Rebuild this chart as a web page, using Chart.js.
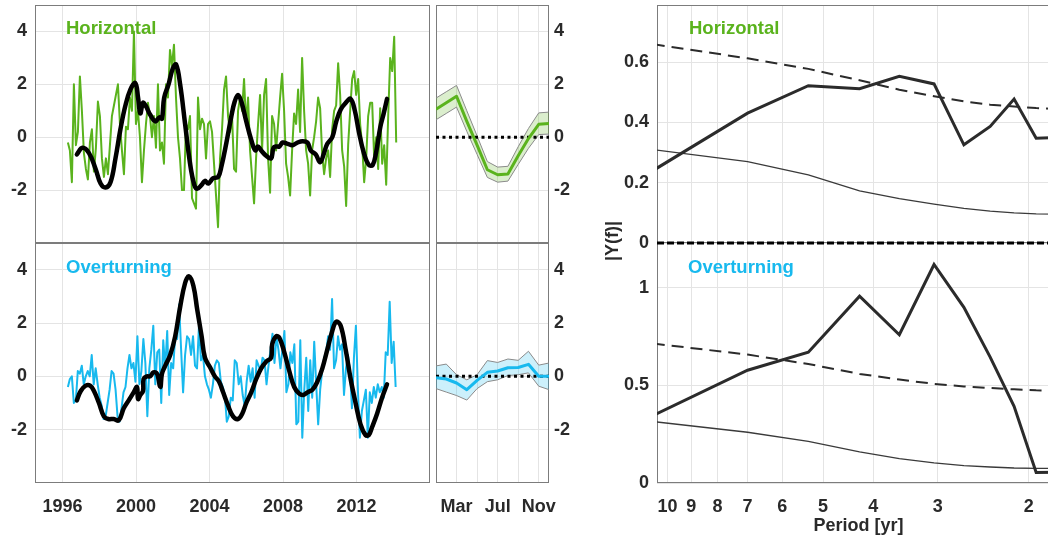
<!DOCTYPE html>
<html><head><meta charset="utf-8">
<script src="https://cdn.jsdelivr.net/npm/chart.js@4.4.1/dist/chart.umd.min.js"></script>
<style>
html,body{margin:0;padding:0;background:#fff;width:1048px;height:540px;overflow:hidden;}
#wrap{position:relative;width:1048px;height:540px;overflow:hidden;}
canvas{position:absolute;}
.up{z-index:2;}
.lbl{position:absolute;z-index:3;font:bold 18.5px "Liberation Sans",Arial,sans-serif;line-height:1;white-space:nowrap;}
</style></head><body>
<div id="wrap">
<canvas id="oTS" width="432" height="300" style="left:0;top:240px"></canvas>
<canvas id="oMon" width="160" height="300" style="left:434px;top:240px"></canvas>
<canvas id="oSpec" width="470" height="300" style="left:590px;top:240px"></canvas>
<canvas id="hTS" class="up" width="432" height="258" style="left:0;top:0"></canvas>
<canvas id="hMon" class="up" width="160" height="258" style="left:434px;top:0"></canvas>
<canvas id="hSpec" class="up" width="470" height="258" style="left:590px;top:0"></canvas>
<div class="lbl" style="left:66px;top:19px;color:#5ab31d">Horizontal</div>
<div class="lbl" style="left:66px;top:258px;color:#17b9ee">Overturning</div>
<div class="lbl" style="left:689px;top:19px;color:#5ab31d">Horizontal</div>
<div class="lbl" style="left:688px;top:258px;color:#17b9ee">Overturning</div>
<div class="lbl" style="left:612px;top:241px;color:#2a2a2a;font-size:18px;transform:translate(-50%,-50%) rotate(-90deg);">|Y(f)|</div>
</div>
<script>
// ---------- Time series (left) ----------
const yearTicks = [1996, 2000, 2004, 2008, 2012];
const tsTicks = [-2, 0, 2, 4];
// Horizontal raw series, evenly sampled between start and end year
const hRawStart = 1996.29, hRawEnd = 2014.16;
const hRaw = [
 -0.2,-0.5,-1.7,2.0,-0.3,0.2,2.3,1.0,-0.6,-1.2,
 -1.6,-0.2,0.3,-1.3,-0.4,1.35,0.8,-0.8,-1.5,-0.8,
 -1.4,-0.3,0.8,1.2,1.6,2.0,0.5,-0.5,-1.4,0.4,
 0.3,1.5,1.0,4.0,0.5,1.0,0.0,-1.7,-0.5,0.5,
 1.3,0.8,0.0,0.8,-0.4,2.0,-0.5,-0.2,-1.0,2.0,
 1.5,3.3,2.7,3.5,1.5,0.0,-0.8,-2.0,-2.0,0.5,
 0.3,0.8,-2.3,-2.5,-2.7,1.5,0.3,0.7,0.5,-0.8,
 0.5,0.6,0.2,-1.0,-2.2,-3.4,-0.8,0.3,1.8,2.3,
 0.8,0.2,0.8,-1.2,-1.3,1.0,1.5,1.0,2.2,0.5,
 1.5,-0.5,-1.5,-2.5,-0.8,0.5,1.6,-0.5,1.6,2.2,
 -0.8,-2.1,0.8,0.5,-0.5,0.5,1.5,2.4,1.0,-1.0,
 -1.5,-2.2,-0.5,0.9,0.5,1.8,0.2,3.0,1.0,-0.5,
 -1.0,-2.2,-0.5,0.0,0.6,1.5,1.1,-0.6,-1.4,-0.8,
 -0.5,-1.5,0.3,1.0,1.2,2.8,1.6,-0.5,-1.1,-2.6,
 -0.3,1.0,2.2,2.5,1.6,2.2,0.5,-0.3,-1.7,-0.8,
 0.8,1.3,1.3,-0.8,0.0,-1.2,1.1,-1.0,-0.3,-1.8,
 0.8,3.0,2.5,3.8,-0.2
];
const hSmoothYears = [1996.78,1997.08,1997.44,1997.80,1998.07,1998.34,1998.61,1998.88,1999.15,1999.42,1999.69,1999.96,2000.11,2000.23,2000.38,2000.52,2000.77,2001.05,2001.28,2001.41,2001.53,2001.77,2002.00,2002.18,2002.40,2002.67,2002.94,2003.17,2003.33,2003.57,2003.75,2003.93,2004.20,2004.47,2004.65,2004.92,2005.19,2005.37,2005.55,2005.73,2006.00,2006.27,2006.49,2006.63,2006.81,2007.08,2007.35,2007.48,2007.62,2007.80,2007.98,2008.25,2008.52,2008.79,2009.06,2009.33,2009.51,2009.78,2010.02,2010.23,2010.41,2010.68,2010.90,2011.14,2011.41,2011.68,2011.91,2012.13,2012.40,2012.67,2012.88,2013.06,2013.30,2013.48,2013.66];
const hSmooth = [-0.65,-0.4,-0.6,-1.2,-1.75,-1.9,-1.7,-0.8,0.3,1.2,1.8,2.05,1.5,0.9,1.3,1.2,0.85,0.6,0.75,0.7,1.5,2.0,2.6,2.75,2.0,0.5,-1.0,-1.8,-1.95,-1.8,-1.65,-1.75,-1.55,-1.5,-1.1,-0.2,0.8,1.35,1.6,1.35,0.6,-0.1,-0.5,-0.35,-0.5,-0.7,-0.8,-0.4,-0.35,-0.35,-0.2,-0.25,-0.3,-0.2,-0.15,-0.2,-0.5,-0.65,-0.95,-0.6,-0.25,0.0,0.6,1.05,1.3,1.45,1.0,0.2,-0.6,-1.05,-1.05,-0.6,0.4,0.9,1.45];

const oRawStart = 1996.29, oRawEnd = 2014.13;
const oRaw = [
 -0.4,-0.1,0.0,-1.0,-0.9,0.2,0.1,0.4,-0.3,0.0,
 0.2,0.0,0.8,-0.3,0.3,-0.3,-0.8,-1.1,-1.6,-1.5,
 -1.0,-0.5,0.2,0.1,-0.5,-1.5,-1.7,-1.2,-0.6,-0.4,
 0.3,0.8,0.3,0.5,-0.2,1.5,-0.3,0.2,1.4,0.5,
 -1.5,0.3,1.0,1.9,-0.3,0.9,1.0,-1.0,1.35,0.3,
 1.7,-0.7,0.5,0.3,1.5,1.4,2.7,1.0,-0.6,0.8,
 1.5,1.4,0.8,1.5,0.4,0.3,1.9,0.6,0.8,0.0,
 -0.3,-0.5,-0.8,-0.3,0.4,0.6,0.5,-0.2,-0.4,-0.7,
 -1.7,-1.5,-0.8,-0.9,0.6,0.5,-0.3,0.0,-0.7,-1.1,
 -0.2,0.4,-0.2,0.3,-0.8,0.6,0.4,0.2,0.7,0.6,
 -0.3,0.4,1.0,1.6,0.5,1.5,1.0,0.3,1.0,1.7,
 -0.6,-0.3,0.9,0.5,1.2,-1.8,-1.7,1.35,-2.3,-0.5,
 0.7,-1.3,0.6,-0.8,1.3,-0.3,-1.8,-0.5,0.2,0.7,
 0.9,1.5,1.0,2.9,0.3,0.6,1.5,1.0,1.2,-0.7,
 0.3,0.8,0.2,-1.2,0.7,1.9,-0.5,-2.3,-1.3,-0.9,
 -0.5,-2.3,-0.6,-1.0,-0.4,-0.8,-0.3,-0.6,-0.4,-0.8,
 0.9,0.8,2.8,0.5,1.3,-0.4
];
const oSmoothYears = [1996.78,1996.99,1997.26,1997.50,1997.71,1997.98,1998.25,1998.49,1998.79,1999.06,1999.33,1999.60,1999.87,2000.05,2000.11,2000.23,2000.38,2000.41,2000.59,2000.77,2000.95,2001.14,2001.32,2001.41,2001.59,2001.86,2002.13,2002.40,2002.67,2002.88,2003.12,2003.33,2003.57,2003.75,2004.02,2004.29,2004.52,2004.74,2005.01,2005.28,2005.55,2005.78,2006.00,2006.27,2006.54,2006.81,2007.08,2007.35,2007.41,2007.62,2007.80,2008.07,2008.34,2008.61,2008.88,2009.10,2009.33,2009.60,2009.87,2010.14,2010.41,2010.68,2010.90,2011.14,2011.41,2011.68,2011.95,2012.22,2012.49,2012.67,2012.85,2013.12,2013.39,2013.66];
const oSmooth = [-0.9,-0.55,-0.35,-0.35,-0.55,-1.0,-1.5,-1.6,-1.6,-1.65,-1.2,-0.9,-0.6,-0.4,-0.85,-0.7,-0.55,-0.1,0.0,0.0,0.15,0.1,-0.4,0.1,0.4,0.8,1.5,2.6,3.5,3.75,3.4,2.5,1.5,0.7,0.35,0.0,-0.2,-0.6,-1.1,-1.5,-1.6,-1.4,-1.0,-0.6,-0.1,0.3,0.55,0.7,1.2,1.5,1.45,0.9,0.2,-0.4,-0.65,-0.7,-0.6,-0.5,-0.2,0.3,1.0,1.7,2.05,1.9,1.0,-0.1,-1.0,-1.8,-2.2,-2.2,-1.9,-1.4,-0.8,-0.3];

// ---------- Seasonal cycle (middle) ----------
const months = [1,2,3,4,5,6,7,8,9,10,11,12];
const monthTicks = [3,5,7,9,11];
const monthLabels = {3:'Mar', 7:'Jul', 11:'Nov'};
const hMonMean  = [1.06,1.3,1.55,0.6,-0.3,-1.23,-1.42,-1.39,-0.7,-0.05,0.49,0.52];
const hMonUpper = [1.48,1.72,1.96,1.0,0.05,-0.92,-1.13,-1.1,-0.36,0.33,0.92,0.95];
const hMonLower = [0.66,0.9,1.14,0.22,-0.65,-1.52,-1.7,-1.66,-1.03,-0.42,0.1,0.12];
const oMonMean  = [-0.05,-0.1,-0.25,-0.5,-0.15,0.15,0.2,0.32,0.33,0.45,0.0,0.0];
const oMonUpper = [0.39,0.46,0.06,-0.13,0.06,0.59,0.52,0.65,0.6,0.94,0.42,0.5];
const oMonLower = [-0.46,-0.59,-0.72,-0.89,-0.46,-0.2,-0.13,0.03,0.06,0.13,-0.37,-0.5];

// ---------- Spectra (right) ----------
const periodTicks = [10,9,8,7,6,5,4,3,2];
const periodMin = 1.74, periodMax = 10.48;
const specPeriods = [10.68,7.0,5.34,4.25,3.56,3.05,2.67,2.375,2.135,1.935,1.76];
const hSpec  = [0.24,0.431,0.522,0.512,0.553,0.528,0.326,0.387,0.478,0.348,0.35];
const hSig   = [0.66,0.613,0.578,0.54,0.509,0.487,0.47,0.459,0.453,0.448,0.445];
const hNoise = [0.31,0.27,0.226,0.173,0.147,0.129,0.115,0.106,0.1,0.097,0.096];
const oSpec  = [0.345,0.578,0.67,0.957,0.76,1.12,0.90,0.645,0.393,0.054,0.055];
const oSig   = [0.715,0.658,0.61,0.559,0.53,0.508,0.495,0.487,0.48,0.475,0.473];
const oNoise = [0.315,0.26,0.213,0.159,0.125,0.103,0.089,0.082,0.077,0.075,0.075];
const hSpecTicks = [0, 0.2, 0.4, 0.6];
const oSpecTicks = [0, 0.5, 1];

// ---------- styles ----------
const GREEN = '#5ab31d', CYAN = '#17b9ee';
const GRID = '#e4e4e4', FRAME = '#7c7c7c';

Chart.defaults.font.family = '"Liberation Sans", Arial, sans-serif';
Chart.defaults.font.size = 18;
Chart.defaults.font.weight = 'bold';
Chart.defaults.color = '#2a2a2a';
Chart.defaults.animation = false;
Chart.defaults.plugins.legend.display = false;
Chart.defaults.plugins.tooltip.enabled = false;
Chart.defaults.elements.point.radius = 0;
Chart.defaults.elements.point.hoverRadius = 0;

const boxPlugin = {
  id: 'box',
  beforeDatasetsDraw(c) {
    const a = c.chartArea, ctx = c.ctx;
    ctx.save();
    ctx.strokeStyle = FRAME; ctx.lineWidth = 1;
    ctx.strokeRect(Math.round(a.left) + 0.5, Math.round(a.top) + 0.5,
                   Math.round(a.right - a.left) - 1, Math.round(a.bottom - a.top) - 1);
    ctx.restore();
  }
};
const setTicks = vals => s => { s.ticks = vals.map(v => ({ value: v })); };
const noPad = s => { s.paddingTop = 0; s.paddingBottom = 0; s.paddingLeft = 0; s.paddingRight = 0; };
const fitH = h => s => { s.height = h; noPad(s); };
const fitW = w => s => { s.width = w; noPad(s); };
const pts = (xs, ys) => xs.map((x, i) => ({ x, y: ys[i] }));
const evenPts = (a, b, ys) => ys.map((y, i) => ({ x: a + (b - a) * i / (ys.length - 1), y }));
const gridOpts = { color: GRID, drawTicks: false, lineWidth: 1 };
// upper panels: chart area 5..243 inside a 258px canvas; lower panels: 243..483 in a 300px canvas at top 240
const padUpper = { top: 5, bottom: 15 };
const padLower = { top: 3, bottom: 0 };

function tsChart(id, raw, rA, rB, sx, sy, color, bottom) {
  const p = bottom ? padLower : padUpper;
  new Chart(document.getElementById(id), {
    type: 'line',
    data: { datasets: [
      { data: pts(sx, sy), borderColor: '#000', borderWidth: 4.5, tension: 0.4, order: 0,
        borderCapStyle: 'round', borderJoinStyle: 'round' },
      { data: evenPts(rA, rB, raw), borderColor: color, borderWidth: 2, tension: 0, order: 1,
        borderJoinStyle: 'round' }
    ]},
    options: {
      responsive: false, parsing: false,
      layout: { padding: { top: p.top, bottom: p.bottom, right: 2, left: 0 } },
      scales: {
        x: { type: 'linear', min: 1994.5, max: 2016, afterBuildTicks: setTicks(yearTicks),
             grid: gridOpts, border: { display: false },
             ticks: { display: bottom, padding: 13, autoSkip: false, maxRotation: 0, callback: v => String(v) },
             afterFit: fitH(bottom ? 57 : 0) },
        y: { min: -4, max: 5, afterBuildTicks: setTicks(tsTicks), grid: gridOpts, border: { display: false },
             ticks: { padding: 8, callback: v => String(v) }, afterFit: fitW(35) }
      }
    },
    plugins: [boxPlugin]
  });
}

function monChart(id, mean, up, lo, color, fill, bottom) {
  const p = bottom ? padLower : padUpper;
  new Chart(document.getElementById(id), {
    type: 'line',
    data: { datasets: [
      { data: pts(months, up), borderColor: '#8a8a8a', borderWidth: 1, backgroundColor: fill, fill: '+1', order: 3 },
      { data: pts(months, lo), borderColor: '#8a8a8a', borderWidth: 1, fill: false, order: 2 },
      { data: pts([months[0], months[months.length - 1]], [0, 0]), borderColor: '#000', borderWidth: 3,
        borderDash: [3, 3.5], order: 1 },
      { data: pts(months, mean), borderColor: color, borderWidth: 3, order: 0, borderJoinStyle: 'round' }
    ]},
    options: {
      responsive: false, parsing: false,
      layout: { padding: { top: p.top, bottom: p.bottom, right: 0, left: 2 } },
      scales: {
        x: { type: 'linear', min: 1, max: 12, afterBuildTicks: setTicks(monthTicks),
             grid: gridOpts, border: { display: false },
             ticks: { display: bottom, padding: 13, autoSkip: false, maxRotation: 0, callback: v => monthLabels[v] || '' },
             afterFit: fitH(bottom ? 57 : 0) },
        y: { position: 'right', min: -4, max: 5, afterBuildTicks: setTicks(tsTicks), grid: gridOpts,
             border: { display: false }, ticks: { padding: 5, callback: v => String(v) },
             afterFit: fitW(45) }
      }
    },
    plugins: [boxPlugin]
  });
}

function specChart(id, spec, sig, noise, ymax, yt, bottom) {
  const p = bottom ? padLower : padUpper;
  const ds = [
    { data: pts(specPeriods, spec), borderColor: '#2b2b2b', borderWidth: 3, order: 1, borderJoinStyle: 'miter' },
    { data: pts(specPeriods, sig), borderColor: '#2b2b2b', borderWidth: 2, borderDash: [12, 7], order: 2 },
    { data: pts(specPeriods, noise), borderColor: '#3a3a3a', borderWidth: 1.3, order: 3 }
  ];
  if (!bottom) {
    ds.push({ data: pts([periodMax, periodMin], [0, 0]), borderColor: '#000', borderWidth: 3,
              borderDash: [7, 3], order: 0, clip: { left: 0, top: 0, right: 0, bottom: 4 } });
  }
  new Chart(document.getElementById(id), {
    type: 'line',
    data: { datasets: ds },
    options: {
      responsive: false, parsing: false,
      layout: { padding: { top: p.top, bottom: p.bottom, right: 0, left: 0 } },
      scales: {
        x: { type: 'logarithmic', reverse: true, min: periodMin, max: periodMax,
             afterBuildTicks: setTicks(periodTicks), grid: gridOpts, border: { display: false },
             ticks: { display: bottom, padding: 13, autoSkip: false, maxRotation: 0, callback: v => String(v) },
             title: { display: bottom, text: 'Period [yr]', padding: { top: 0, bottom: 3 }, font: { size: 18, weight: 'bold' } },
             afterFit: fitH(bottom ? 57 : 0) },
        y: { min: 0, max: ymax, afterBuildTicks: setTicks(yt), grid: gridOpts, border: { display: false },
             ticks: { padding: 8, callback: v => String(v) }, afterFit: fitW(67) }
      }
    },
    plugins: [boxPlugin]
  });
}

tsChart('hTS', hRaw, hRawStart, hRawEnd, hSmoothYears, hSmooth, GREEN, false);
tsChart('oTS', oRaw, oRawStart, oRawEnd, oSmoothYears, oSmooth, CYAN, true);
monChart('hMon', hMonMean, hMonUpper, hMonLower, GREEN, 'rgba(90,179,29,0.22)', false);
monChart('oMon', oMonMean, oMonUpper, oMonLower, CYAN, 'rgba(23,185,238,0.22)', true);
specChart('hSpec', hSpec, hSig, hNoise, 0.79, hSpecTicks, false);
specChart('oSpec', oSpec, oSig, oNoise, 1.23, oSpecTicks, true);
</script>
</body></html>
